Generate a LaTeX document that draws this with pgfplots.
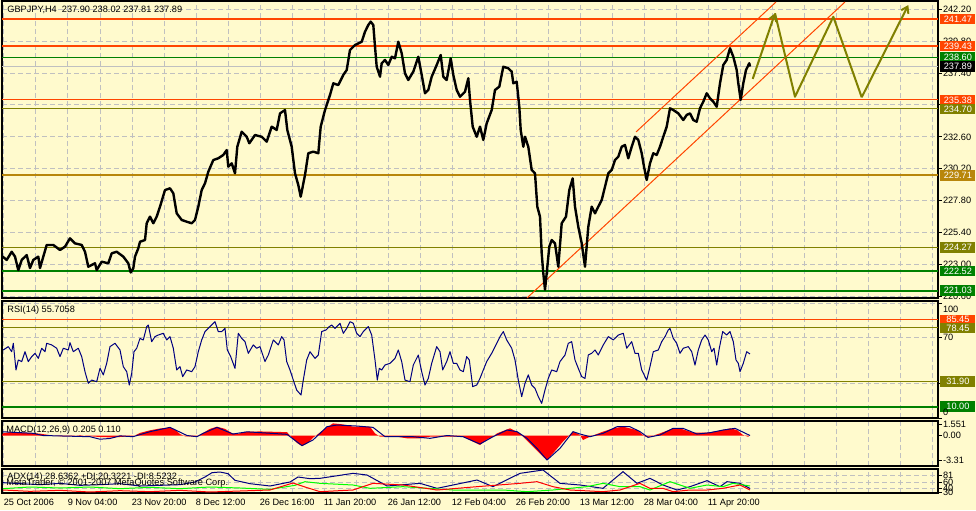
\documentclass[border=0pt]{standalone}
\usepackage{fontspec}
\setmainfont{Liberation Sans}
\usepackage{pgfplots}
\pgfplotsset{compat=1.18}
\usetikzlibrary{arrows.meta}

\definecolor{bg}{RGB}{255,250,205}
\definecolor{ored}{RGB}{255,69,0}
\definecolor{mgreen}{RGB}{0,128,0}
\definecolor{molive}{RGB}{128,128,0}
\definecolor{mgold}{RGB}{184,134,11}
\definecolor{mnavy}{RGB}{0,0,128}
\definecolor{mgrid}{RGB}{192,192,192}
\newcommand\mtf{\fontsize{4.6}{5}\selectfont}

\pgfplotsset{
  mt/.style={
    scale only axis, width=468pt, xmin=2, xmax=938,
    axis background/.style={fill=bg},
    axis line style={black, line width=0.6pt},
    xtick={4,36,...,932}, xticklabels={}, xmajorgrids,
    major grid style={mgrid, line width=0.5pt, dash pattern=on 2.5pt off 1.5pt},
    xtick style={draw=none},
    ytick pos=right, yticklabel pos=right,
    ytick style={black, line width=0.5pt},
    tick align=outside, major tick length=1.8pt,
    tick label style={font=\mtf, inner sep=0.5pt},
    yticklabel style={anchor=west},
    /pgf/number format/assume math mode=true,
    anchor=north west,
  },
}
\tikzset{
  hl/.style={line width=#1, mark=none},
  box/.style={anchor=west, xshift=1pt, text=white, font=\mtf, inner sep=0.6pt,
    minimum height=5.2pt, minimum width=17.5pt},
}

\begin{document}
\begin{tikzpicture}
\useasboundingbox (0,0) rectangle (488pt,-255pt);
\fill[bg] (0,0) rectangle (488pt,-255pt);

% ---------------- price window
\begin{axis}[mt, at={(1pt,-0.5pt)}, height=148.5pt,
  ymin=220.478, ymax=242.824, ymajorgrids,
  ytick={220.6,223.0,225.4,227.8,230.2,232.6,235.0,237.4,239.8,242.2},
  yticklabels={220.60,223.00,225.40,227.80,230.20,232.60,,237.40,239.80,242.20}]
\addplot[hl=0.5pt, mgrid] coordinates {(2,237.89)(938,237.89)};
\addplot[hl=1pt, ored] coordinates {(2,241.47)(938,241.47)};
\addplot[hl=1pt, ored] coordinates {(2,239.43)(938,239.43)};
\addplot[hl=0.5pt, mgreen] coordinates {(2,238.60)(938,238.60)};
\addplot[hl=0.5pt, ored] coordinates {(2,235.38)(938,235.38)};
\addplot[hl=0.5pt, molive] coordinates {(2,234.70)(938,234.70)};
\addplot[hl=1pt, mgold] coordinates {(2,229.71)(938,229.71)};
\addplot[hl=0.5pt, molive] coordinates {(2,224.27)(938,224.27)};
\addplot[hl=1pt, mgreen] coordinates {(2,222.52)(938,222.52)};
\addplot[hl=1pt, mgreen] coordinates {(2,221.03)(938,221.03)};
% channel
\addplot[hl=0.5pt, ored] coordinates {(636,232.97)(776,242.75)};
\addplot[hl=0.5pt, ored] coordinates {(527,220.48)(845,242.75)};
% projection
\addplot[hl=1pt, molive, -{Straight Barb[length=3pt,width=4pt]}] coordinates {(752.7,236.96)(775,241.90)};
\addplot[hl=1pt, molive, line join=round] coordinates {(775,241.90)(795,235.62)(833.3,241.64)(861.7,235.58)};
\addplot[hl=1pt, molive, -{Straight Barb[length=3pt,width=4pt]}] coordinates {(861.7,235.58)(908.3,242.52)};
% price
\addplot[hl=1.2pt, black, line join=round] coordinates {
(2.7,223.59)(6.7,223.34)(11.7,223.96)(15,223.59)(18.3,222.58)(21.7,223.34)(26.7,223.71)(30,222.73)
(33.3,223.34)(38.3,223.59)(40,222.73)(43.3,223.59)(46.7,224.47)(53.3,224.47)(60,224.09)(65,224.34)
(70,224.97)(75,224.59)(81.7,224.47)(85,223.96)(88.3,222.83)(95,223.09)(96.7,222.58)(101.7,223.21)
(108.3,223.09)(111.7,223.84)(116.7,223.96)(123.3,223.59)(128.3,223.09)(130.7,222.40)(133.3,222.71)
(135,223.59)(138.3,224.22)(140,224.71)(145,224.84)(146.7,226.10)(150,226.60)(153.3,226.10)(156.7,226.60)
(160,227.35)(165,228.60)(170,228.73)(173.3,228.36)(176.7,226.85)(181.7,226.35)(186.7,226.22)(191.7,226.10)
(195,226.35)(198.3,227.35)(201.7,228.60)(205,229.11)(208.3,229.98)(213.3,230.86)(218.3,230.99)(223.3,231.24)
(226.7,231.61)(228.3,230.36)(231.7,230.61)(235,229.86)(237.3,231.86)(241.7,232.99)(246.7,232.61)(249.3,232.12)
(255,232.74)(261.7,232.61)(266.7,232.24)(271.7,233.37)(276.7,233.12)(280,234.37)(285,234.62)(287.3,233.12)
(291.7,231.86)(295,229.86)(298.3,228.98)(300.7,228.10)(305,229.73)(308.3,231.37)(313.3,231.49)(318.3,231.37)
(320.7,233.37)(325,234.62)(330,235.75)(333.3,236.63)(338.3,236.50)(343.3,237.26)(346.7,237.63)(350,239.14)
(355,239.51)(361.7,239.76)(365,240.51)(368.3,241.02)(370.7,241.27)(373.3,241.02)(375,239.39)(376.7,237.88)
(380,237.13)(381.7,238.14)(385,238.39)(388.3,238.01)(391.7,238.63)(395,238.51)(398.3,239.76)(401.7,238.89)
(405,237.38)(408.3,236.88)(413.3,237.51)(418.3,238.63)(421.7,237.26)(425,235.88)(428.3,236.13)(431.7,237.13)
(436.7,238.01)(440.7,238.76)(443.3,237.13)(446.7,236.88)(450.7,238.51)(453.3,237.26)(456.7,236.13)(460,235.62)
(465,236.00)(468.3,237.01)(470,235.38)(472.7,233.37)(476.7,232.61)(480,233.37)(483.3,232.37)(486.7,233.62)
(491.7,234.62)(495,236.13)(499.3,236.38)(503.3,237.88)(508.3,237.76)(511.7,237.51)(513.3,236.63)(516.7,236.75)
(519.3,234.87)(520.7,233.12)(523.3,231.86)(525,232.61)(528.3,231.86)(531.7,230.11)(535,229.86)(537.3,227.35)
(540,226.60)(541.7,223.84)(543.3,222.34)(545,221.10)(546.7,222.34)(549.3,224.34)(551.7,224.84)(555,224.59)
(558.3,222.83)(561.7,226.10)(566,226.60)(569.3,228.60)(572.7,229.48)(575,227.35)(578.3,225.84)(581.7,224.59)
(585,222.83)(588.3,225.84)(591.7,227.35)(595,226.85)(598.3,227.35)(601.7,227.85)(605,228.85)(608.3,229.86)
(611.7,230.11)(615,230.86)(618.3,231.11)(621.7,231.86)(625,231.99)(628.3,230.99)(631.7,231.86)(635,232.61)
(638.3,232.37)(641.7,231.37)(644,230.36)(646.7,229.36)(650,230.61)(653.3,231.37)(656.7,231.24)(660,231.86)
(663.3,232.61)(666.7,233.37)(670,234.75)(673.3,234.62)(678.3,234.37)(683.3,233.87)(686.7,234.25)(690,234.37)
(693.3,233.87)(696.7,233.74)(700,234.75)(703.3,235.25)(706.7,235.88)(710,235.50)(713.3,235.25)(716.7,234.87)
(720,236.63)(723.3,238.01)(726.7,238.39)(730,239.27)(733.3,238.63)(736.7,237.63)(738.3,236.63)(740.7,235.38)
(743.3,236.63)(746,237.63)(749.3,238.14)(750,237.89)};
\coordinate (b1) at (axis cs:938,241.47);
\coordinate (b2) at (axis cs:938,239.43);
\coordinate (b3) at (axis cs:938,238.60);
\coordinate (b4) at (axis cs:938,237.89);
\coordinate (b5) at (axis cs:938,235.38);
\coordinate (b6) at (axis cs:938,234.70);
\coordinate (b7) at (axis cs:938,229.71);
\coordinate (b8) at (axis cs:938,224.27);
\coordinate (b9) at (axis cs:938,222.52);
\coordinate (b10) at (axis cs:938,221.03);
\end{axis}

% ---------------- RSI window
\begin{axis}[mt, at={(1pt,-150.5pt)}, height=58.5pt,
  ymin=0, ymax=101.8, ymajorgrids, ytick={0,30,70,100}, yticklabels={,,70,}]
\addplot[hl=0.5pt, ored] coordinates {(2,85.45)(938,85.45)};
\addplot[hl=0.5pt, molive] coordinates {(2,78.45)(938,78.45)};
\addplot[hl=0.5pt, molive] coordinates {(2,31.90)(938,31.90)};
\addplot[hl=1pt, mgreen] coordinates {(2,10.00)(938,10.00)};
\addplot[hl=0.5pt, mnavy, line join=round] coordinates {
(3.3,59.2)(8.3,62.1)(11.7,57.7)(13.3,65.0)(16,41.8)(18.3,50.5)(21.7,49.1)(25,57.7)(28.3,49.1)(31.7,53.4)
(35,56.3)(38.3,51.9)(41.7,60.7)(45,57.7)(46.7,65.0)(51.7,63.6)(56.7,60.7)(60,53.4)(63.3,60.7)(68.3,59.2)
(70,65.5)(73.3,57.7)(78.3,60.7)(81.7,53.4)(85,40.3)(88.3,30.2)(91.7,33.0)(96.7,31.6)(100,43.2)(103.3,37.5)
(106.7,47.6)(110,62.1)(115,65.0)(120,59.2)(123.3,44.7)(126.7,40.3)(129.3,28.7)(131.7,38.9)(134,57.7)(136.7,60.7)
(140,69.3)(143.3,67.9)(146.7,79.5)(148.3,80.9)(151.7,66.4)(155,70.8)(158.3,72.2)(163.3,73.7)(166.7,67.9)(170,70.8)
(173.3,60.7)(176.7,41.8)(180,44.7)(182.7,36.0)(186.7,41.8)(191.7,40.3)(195,44.7)(198.3,57.7)(201.7,67.9)(205,75.2)
(210,79.5)(215,83.8)(218.3,75.2)(221.7,75.2)(225,78.0)(227.3,59.2)(230.7,53.4)(235,43.2)(238.3,73.7)(241.7,69.3)
(245,66.4)(248.3,56.3)(253.3,63.6)(256.7,60.7)(260,62.1)(265,49.1)(268.3,54.8)(273.3,67.9)(278.3,63.6)(281.7,70.8)
(284,67.9)(286.7,49.1)(290,41.8)(293.3,33.0)(296.7,24.3)(301,20.0)(303.3,33.0)(306.7,50.5)(310,57.7)(315,51.9)
(318.3,54.8)(321.7,75.2)(326,76.6)(329.3,79.5)(331.7,80.9)(335,78.0)(340,82.4)(343.3,73.7)(346.7,78.0)(350,83.8)
(353.3,82.4)(356.7,73.7)(360,70.8)(363.3,75.2)(368.3,79.5)(371.7,72.2)(375,50.5)(377.3,33.0)(379.3,43.2)(381.7,41.8)
(385,46.1)(390,47.6)(395,51.9)(398.3,59.2)(401.7,49.1)(405,33.0)(410,31.6)(413.3,46.1)(418.3,54.8)(421.7,40.3)
(425,28.7)(428.3,34.5)(431.7,47.6)(436.7,62.1)(440,57.7)(442.7,41.8)(446.7,49.1)(450,57.7)(453.3,47.6)(456.7,47.6)
(460,41.8)(463.3,40.3)(466.7,53.4)(469.3,50.5)(472.7,27.3)(476.7,28.7)(480,34.5)(483.3,41.8)(486.7,49.1)(491.7,56.3)
(496.7,65.0)(500,70.8)(503.3,75.2)(506.7,67.9)(511.7,60.7)(515,50.5)(518.3,33.0)(521.7,18.6)(525,30.2)(528.3,37.5)
(531.7,28.7)(535,25.8)(538.3,18.6)(541.7,12.8)(545,24.4)(548.3,34.5)(551.7,41.8)(556.7,40.3)(560,49.1)(565,54.8)
(568.3,65.0)(571.7,66.4)(575,50.5)(578.3,43.2)(581.7,36.0)(585,34.5)(588.3,54.8)(591.7,56.3)(595,59.2)(598.3,54.8)
(603.3,63.6)(608.3,70.8)(613.3,67.9)(618.3,72.2)(623.3,73.7)(626.7,60.7)(631.7,66.4)(635,56.3)(638.3,56.3)(641.7,41.8)
(646.7,33.0)(650,44.7)(653.3,57.7)(658.3,59.2)(661.7,66.4)(665,70.8)(668.3,76.6)(670,78.0)(673.3,69.3)(676.7,65.0)
(680,56.3)(683.3,60.7)(688.3,62.1)(691.7,57.7)(695,46.1)(698.3,59.2)(701.7,67.9)(705,72.2)(708.3,67.9)(711.7,57.7)
(714,60.7)(716.7,46.1)(719.3,60.7)(722.7,75.2)(726.7,72.2)(730,75.2)(733.3,66.4)(736,50.5)(738.3,47.6)(740,40.3)
(743.3,47.6)(746.7,57.7)(750,55.7)};
\coordinate (r1) at (axis cs:938,85.45);
\coordinate (r2) at (axis cs:938,78.45);
\coordinate (r3) at (axis cs:938,31.90);
\coordinate (r4) at (axis cs:938,10.00);
\coordinate (rt) at (axis cs:938,94.5);
\coordinate (rb) at (axis cs:938,5.2);
\end{axis}

% ---------------- MACD window
\begin{axis}[mt, at={(1pt,-210.5pt)}, height=22.5pt,
  ymin=-4.12, ymax=1.96, ytick={-3.31,0,1.551}, yticklabels={-3.31,0.00,1.551}]
\addplot[fill=red, draw=none, mark=none] coordinates {
(2,0)(3,0.30)(10,0.45)(20,0.40)(30,0.35)(40,0.25)(50,0.05)(60,-0.10)(70,-0.10)(80,0.05)(90,-0.10)(100,-0.20)
(110,-0.25)(120,-0.20)(130,-0.10)(135,0.0)(140,0.35)(150,0.70)(160,0.95)(170,1.10)(175,0.8)(180,0.20)(185,-0.10)
(195,-0.15)(200,0.10)(205,0.5)(210,0.9)(217,1.19)(225,0.9)(232,0.3)(238,0.2)(245,0.5)(260,0.55)(275,0.5)(287,0.45)
(292,-0.3)(297,-1.0)(302,-1.42)(308,-1.0)(313,-0.3)(318,0.2)(325,0.9)(333,1.64)(343,1.5)(353,1.19)(363,1.2)(370,1.19)
(375,0.29)(380,-0.16)(397,-0.16)(407,-0.38)(420,-0.38)(430,-0.16)(447,-0.16)(463,-0.16)(473,-0.83)(480,-1.28)
(487,-0.52)(493,-0.16)(497,0.29)(510,0.97)(520,0.29)(523,-0.16)(533,-1.51)(543,-2.86)(547,-3.31)(553,-2.41)
(563,-0.83)(568,-0.16)(573,0.52)(580,0.07)(583,-0.61)(590,-0.16)(603,0.52)(613,0.97)(623,1.19)(637,0.74)(645,-0.16)
(650,-0.16)(660,0.29)(673,0.97)(680,0.97)(693,0.38)(707,0.38)(720,0.65)(730,0.97)(737,0.74)(743,0.07)(748,-0.16)(750,0)}
\closedcycle;
\addplot[hl=0.5pt, mnavy, line join=round] coordinates {
(3,0.5)(33,0.3)(43,0)(90,-0.16)(100,-0.5)(110,-0.4)(120,-0.05)(133,-0.16)(150,0.52)(170,1.1)(187,0)(197,-0.16)
(203,0.29)(217,1.1)(233,0.2)(247,0.5)(287,0.16)(302,-1.37)(313,-0.6)(327,1.19)(337,1.42)(357,1.28)(373,1.1)
(385,-0.16)(413,-0.16)(430,-0.38)(447,0)(463,-0.16)(480,-1.15)(493,-0.16)(507,0.74)(517,0.52)(527,-0.38)
(537,-1.73)(547,-3.31)(560,-1.73)(573,0.52)(580,0.2)(590,-0.16)(603,0.29)(617,1.19)(630,1.19)(640,0.52)
(648,-0.25)(660,0.07)(673,0.97)(683,0.97)(697,0.2)(710,0.38)(723,0.74)(735,0.97)(750,0)};
\end{axis}

% ---------------- ADX window
\begin{axis}[mt, at={(1pt,-234.5pt)}, height=12pt,
  ymin=27, ymax=99, ymajorgrids, ytick={30,40,60,81},
  extra x ticks={4,68,132,196,260,324,388,452,516,580,644,708},
  extra x tick labels={25 Oct 2006,9 Nov 04:00,23 Nov 20:00,8 Dec 12:00,26 Dec 16:00,11 Jan 20:00,26 Jan 12:00,12 Feb 04:00,26 Feb 20:00,13 Mar 12:00,28 Mar 04:00,11 Apr 20:00},
  extra x tick style={grid=none, tick style={draw=black, line width=0.5pt},
    xticklabel style={anchor=north west, xshift=-0.8pt, yshift=-0.6pt}}]
\addplot[hl=0.5pt, mnavy] coordinates {
(3,58)(20,55)(40,52)(60,56)(80,50)(100,52)(120,55)(140,48)(160,50)(180,52)(195,60)(205,75)(212,88)(220,90)
(228,85)(235,65)(250,55)(270,48)(290,60)(298,75)(310,70)(320,71)(353,86)(367,81)(387,48)(420,56)(437,41)
(477,66)(493,46)(520,86)(543,96)(560,56)(580,51)(603,41)(623,91)(637,56)(650,71)(663,51)(677,36)(690,46)
(707,64)(720,46)(727,61)(740,56)(750,41)};
\addplot[hl=0.5pt, green] coordinates {
(3,40)(30,45)(60,42)(90,45)(120,40)(150,44)(180,40)(210,45)(240,42)(270,38)(295,50)(305,61)(320,56)(353,51)
(370,41)(403,46)(453,36)(503,36)(527,31)(553,36)(587,46)(603,56)(620,46)(640,46)(650,36)(670,61)(690,41)
(707,51)(723,46)(733,56)(750,48)};
\addplot[hl=0.5pt, red] coordinates {
(3,36)(30,32)(60,35)(90,30)(120,34)(150,31)(180,35)(210,30)(240,33)(270,36)(293,57)(305,45)(320,31)(353,36)
(373,56)(403,51)(437,36)(477,46)(520,56)(537,61)(553,46)(570,36)(603,31)(620,36)(640,56)(650,41)(663,41)
(673,31)(690,36)(707,36)(723,41)(740,51)(750,36)};
\end{axis}

% ---------------- level boxes and captions
\node[box, fill=ored] at (b1) {241.47};
\node[box, fill=ored] at (b2) {239.43};
\node[box, fill=mgreen] at (b3) {238.60};
\node[box, fill=black] at (b4) {237.89};
\node[box, fill=ored] at (b5) {235.38};
\node[box, fill=molive] at (b6) {234.70};
\node[box, fill=mgold] at (b7) {229.71};
\node[box, fill=molive] at (b8) {224.27};
\node[box, fill=mgreen] at (b9) {222.52};
\node[box, fill=mgreen] at (b10) {221.03};
\node[box, fill=ored] at (r1) {85.45};
\node[box, fill=molive] at (r2) {78.45};
\node[box, fill=molive] at (r3) {31.90};
\node[box, fill=mgreen] at (r4) {10.00};
\node[anchor=west, font=\mtf, inner sep=0.5pt, xshift=1.8pt] at (rt) {100};
\node[anchor=west, font=\mtf, inner sep=0.5pt, xshift=1.8pt] at (rb) {0};

\node[anchor=west, font=\mtf, inner sep=0] at (3.5pt,-5pt) {GBPJPY,H4\ \ 237.90 238.02 237.81 237.89};
\node[anchor=west, font=\mtf, inner sep=0] at (3.5pt,-155pt) {RSI(14) 55.7058};
\node[anchor=west, font=\mtf, inner sep=0] at (3pt,-215.3pt) {MACD(12,26,9) 0.205 0.110};
\node[anchor=west, font=\mtf, inner sep=0] at (3.5pt,-238.8pt) {ADX(14) 28.6362 +DI:20.3221 -DI:8.5232};
\node[anchor=west, font=\mtf, inner sep=0] at (3pt,-241.8pt) {MetaTrader, © 2001-2007 MetaQuotes Software Corp.};
\end{tikzpicture}
\end{document}
